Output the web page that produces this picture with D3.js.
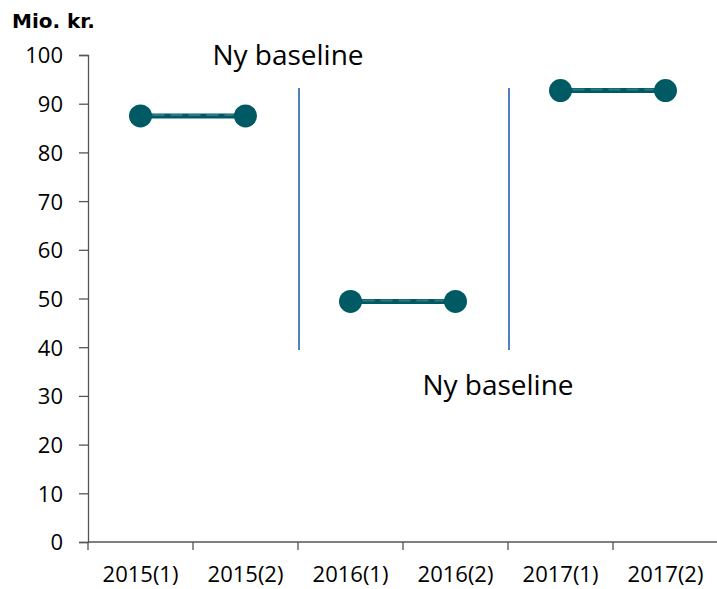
<!DOCTYPE html>
<html>
<head>
<meta charset="utf-8">
<script src="https://cdn.jsdelivr.net/npm/d3@7"></script>
<style>
  body { margin: 0; background: #fff; }
  svg text { font-family: "Open Sans", "DejaVu Sans", sans-serif; fill: #000; }
  .axis path, .axis line { stroke: #555; stroke-width: 1.3; }
  .unit { font-family: "DejaVu Sans", sans-serif; }
</style>
</head>
<body>
<div id="chart"></div>
<script>
// Chart data
const categories = ["2015(1)", "2015(2)", "2016(1)", "2016(2)", "2017(1)", "2017(2)"];
const values = [87.5, 87.5, 49.4, 49.4, 92.7, 92.7];
// pairs of points joined by a line
const segments = [[0, 1], [2, 3], [4, 5]];
const yTicks = [0, 10, 20, 30, 40, 50, 60, 70, 80, 90, 100];
// baseline separators: index of band before the break, from/to value
const breaks = [{after: 1, from: 39.4, to: 93.2}, {after: 3, from: 39.4, to: 93.2}];
const annotations = [{after: 1, value: 97.9, text: "Ny baseline"}, {after: 3, value: 30.2, text: "Ny baseline"}];

const DOT_COLOR = "#005a63";
const BREAK_COLOR = "#4f81bd";

const width = 717, height = 589;
const margin = {left: 88, top: 55, right: 0, bottom: 47};

let svg = d3.select("#chart")
    .append("svg")
    .attr("width", width)
    .attr("height", height);

let x = d3.scaleBand()
    .domain(categories)
    .range([margin.left, width - margin.right + 1])
    .padding(0);

let y = d3.scaleLinear()
    .domain([0, 100])
    .range([height - margin.bottom, margin.top]);

// y axis
let yAxis = svg.append("g")
    .attr("class", "axis")
    .attr("transform", "translate(" + margin.left + ",0)")
    .call(d3.axisLeft(y).tickValues(yTicks).tickSize(9).tickSizeOuter(9).tickPadding(16));
yAxis.attr("font-size", null).attr("font-family", null);
yAxis.selectAll("text").style("font-size", "22px").attr("dy", "0.36em");

// x axis, ticks at band edges
let xAxis = svg.append("g")
    .attr("class", "axis")
    .attr("transform", "translate(0," + y(0) + ")");
xAxis.append("line")
    .attr("x1", margin.left).attr("x2", width)
    .attr("y1", 0).attr("y2", 0);
xAxis.selectAll(".edge")
    .data(categories)
    .enter().append("line")
    .attr("class", "edge")
    .attr("x1", d => x(d)).attr("x2", d => x(d))
    .attr("y1", 0).attr("y2", 8);
xAxis.selectAll(".lbl")
    .data(categories)
    .enter().append("text")
    .attr("class", "lbl")
    .attr("x", d => x(d) + x.bandwidth() / 2)
    .attr("y", 40)
    .attr("text-anchor", "middle")
    .style("font-size", "22px")
    .text(d => d);

// unit label
svg.append("text")
    .attr("class", "unit")
    .attr("x", 12)
    .attr("y", 28)
    .style("font-size", "20px")
    .style("font-weight", "bold")
    .text("Mio. kr.");

// baseline separators
svg.selectAll(".break")
    .data(breaks)
    .enter().append("line")
    .attr("class", "break")
    .attr("x1", d => x(categories[d.after]) + x.bandwidth() + 1)
    .attr("x2", d => x(categories[d.after]) + x.bandwidth() + 1)
    .attr("y1", d => y(d.from))
    .attr("y2", d => y(d.to))
    .attr("stroke", BREAK_COLOR)
    .attr("stroke-width", 2);

svg.selectAll(".note")
    .data(annotations)
    .enter().append("text")
    .attr("class", "note")
    .attr("x", d => x(categories[d.after]) + x.bandwidth() - 10)
    .attr("y", d => y(d.value))
    .attr("text-anchor", "middle")
    .style("font-size", "28px")
    .text(d => d.text);

// connecting lines
let cx = i => x(categories[i]) + x.bandwidth() / 2;
svg.selectAll(".seg")
    .data(segments)
    .enter().append("line")
    .attr("class", "seg")
    .attr("x1", d => cx(d[0])).attr("x2", d => cx(d[1]))
    .attr("y1", d => y(values[d[0]])).attr("y2", d => y(values[d[1]]))
    .attr("stroke", DOT_COLOR)
    .attr("stroke-width", 5);
svg.selectAll(".segdash")
    .data(segments)
    .enter().append("line")
    .attr("class", "segdash")
    .attr("x1", d => cx(d[0]) + 12).attr("x2", d => cx(d[1]) - 12)
    .attr("y1", d => y(values[d[0]]) - 1).attr("y2", d => y(values[d[1]]) - 1)
    .attr("stroke", "#2f7880")
    .attr("stroke-width", 2)
    .attr("stroke-dasharray", "12,6");

// points
svg.selectAll(".dot")
    .data(values)
    .enter().append("circle")
    .attr("class", "dot")
    .attr("cx", (d, i) => cx(i))
    .attr("cy", d => y(d))
    .attr("r", 11.5)
    .attr("fill", DOT_COLOR);
</script>
</body>
</html>
